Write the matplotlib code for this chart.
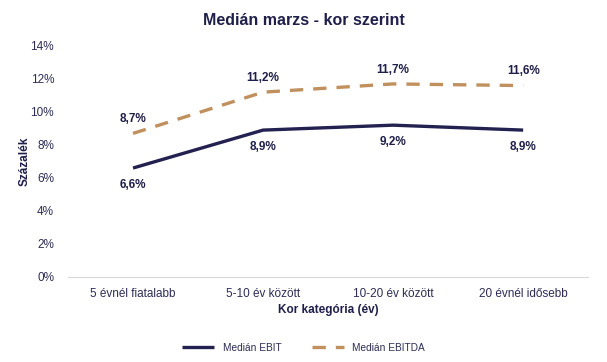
import matplotlib.pyplot as plt
from matplotlib.ticker import FuncFormatter

plt.rcParams['font.family'] = ['Liberation Sans', 'DejaVu Sans']

categories = ["5 évnél fiatalabb", "5-10 év között", "10-20 év között", "20 évnél idősebb"]
ebit = [6.6, 8.9, 9.2, 8.9]
ebitda = [8.7, 11.2, 11.7, 11.6]

navy = "#23214f"
tan = "#c0905e"
text_col = "#1f1f4a"
tick_col = "#2c2c55"

fig = plt.figure(figsize=(6.07, 3.62), dpi=100)
ax = fig.add_axes([0.112, 0.235, 0.857, 0.638])

x = list(range(len(categories)))
ax.plot(x, ebit, color=navy, lw=2.4, label="Medián EBIT", solid_capstyle="butt")
ax.plot(x, ebitda, color=tan, lw=2.4, ls=(0, (4, 3)), label="Medián EBITDA")

for xi, v in zip(x, ebit):
    ax.annotate(f"{v:.1f}%".replace(".", ","), (xi, v), xytext=(0, -8), textcoords="offset points",
                ha="center", va="top", fontsize=8.5, fontweight="bold", color=text_col)
for xi, v in zip(x, ebitda):
    ax.annotate(f"{v:.1f}%".replace(".", ","), (xi, v), xytext=(0, 6), textcoords="offset points",
                ha="center", va="bottom", fontsize=8.5, fontweight="bold", color=text_col)

ax.set_xlim(-0.5, 3.5)
ax.set_ylim(0, 14)
ax.set_yticks(range(0, 15, 2))
ax.yaxis.set_major_formatter(FuncFormatter(lambda v, p: f"{v:.0f}%"))
ax.set_xticks(x)
ax.set_xticklabels(categories)
ax.tick_params(axis="both", length=0, labelsize=8.5, labelcolor=tick_col)
ax.tick_params(axis="x", pad=8)
ax.tick_params(axis="y", pad=10)
for s in ["top", "right", "left"]:
    ax.spines[s].set_visible(False)
ax.spines["bottom"].set_color("#d9d9d9")

ax.set_xlabel("Kor kategória (év)", fontsize=8.5, fontweight="bold", color=text_col, labelpad=3)
ax.set_ylabel("Százalék", fontsize=8.5, fontweight="bold", color=text_col, labelpad=0)
fig.suptitle("Medián marzs - kor szerint", fontsize=11.5, fontweight="bold", color=text_col, y=0.965)

fig.legend(loc="lower center", bbox_to_anchor=(0.5, 0.0), ncol=2, frameon=False, fontsize=7.3,
           handlelength=3.2, columnspacing=3, labelcolor=tick_col)

fig.savefig("out.png", dpi=100)
